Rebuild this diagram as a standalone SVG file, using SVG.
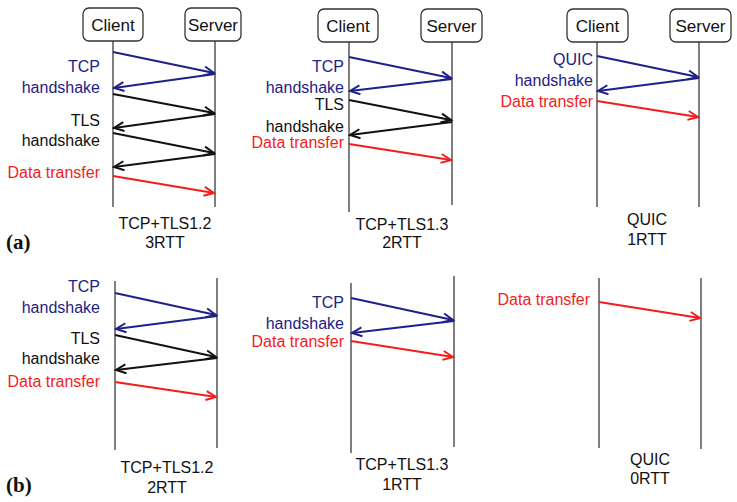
<svg xmlns="http://www.w3.org/2000/svg" width="737" height="502" viewBox="0 0 737 502">
<style>
.bg{fill:#fff}
.box{fill:#fff;stroke:#333;stroke-width:1.3}
.life{stroke:#555;stroke-width:1.5;fill:none}
.t{font-family:"Liberation Sans",Arial,sans-serif;font-size:17px}
.lbl{font-family:"Liberation Sans",Arial,sans-serif;font-size:16px;text-anchor:end}
.ttl{font-family:"Liberation Sans",Arial,sans-serif;font-size:16px;text-anchor:middle;fill:#111}
.pl{font-family:"Liberation Serif","Times New Roman",serif;font-size:21px;font-weight:bold;fill:#111}
.blue{fill:#1e2187}
.black{fill:#111}
.red{fill:#f21d1d}
.ab{stroke:#1e2187;stroke-width:2;fill:none;marker-end:url(#mb)}
.ak{stroke:#111;stroke-width:2;fill:none;marker-end:url(#mk)}
.ar{stroke:#f21d1d;stroke-width:2;fill:none;marker-end:url(#mr)}
</style>
<defs>
<marker id="mb" markerUnits="userSpaceOnUse" markerWidth="14" markerHeight="12" refX="11" refY="6" orient="auto"><path d="M1,1.5 L11,6 L1,10.5" fill="none" stroke="#1e2187" stroke-width="2"/></marker>
<marker id="mk" markerUnits="userSpaceOnUse" markerWidth="14" markerHeight="12" refX="11" refY="6" orient="auto"><path d="M1,1.5 L11,6 L1,10.5" fill="none" stroke="#111" stroke-width="2"/></marker>
<marker id="mr" markerUnits="userSpaceOnUse" markerWidth="14" markerHeight="12" refX="11" refY="6" orient="auto"><path d="M1,1.5 L11,6 L1,10.5" fill="none" stroke="#f21d1d" stroke-width="2"/></marker>
</defs>
<rect class="bg" width="737" height="502"/>

<!-- lifelines -->
<g id="lifelines">
<line class="life" x1="113" y1="41" x2="113" y2="207"/>
<line class="life" x1="215" y1="41" x2="215" y2="207"/>
<line class="life" x1="349" y1="42" x2="349" y2="212"/>
<line class="life" x1="452" y1="42" x2="452" y2="205"/>
<line class="life" x1="597" y1="42" x2="597" y2="207"/>
<line class="life" x1="699" y1="42" x2="699" y2="207"/>
<line class="life" x1="115" y1="281" x2="115" y2="450"/>
<line class="life" x1="217" y1="278" x2="217" y2="448"/>
<line class="life" x1="351" y1="283" x2="351" y2="453"/>
<line class="life" x1="454" y1="276" x2="454" y2="447"/>
<line class="life" x1="599" y1="278" x2="599" y2="448"/>
<line class="life" x1="701" y1="278" x2="701" y2="449"/>
</g>

<!-- nodes -->
<g id="client-a1"><rect class="box" x="83" y="8" width="60" height="33" rx="6"/><text class="t black" x="113" y="30.5" text-anchor="middle">Client</text></g>
<g id="server-a1"><rect class="box" x="185" y="8" width="56" height="33" rx="6"/><text class="t black" x="213" y="30.5" text-anchor="middle">Server</text></g>
<g id="client-a2"><rect class="box" x="318" y="9" width="60" height="33" rx="6"/><text class="t black" x="348" y="31.5" text-anchor="middle">Client</text></g>
<g id="server-a2"><rect class="box" x="421" y="9" width="61" height="33" rx="6"/><text class="t black" x="451.5" y="31.5" text-anchor="middle">Server</text></g>
<g id="client-a3"><rect class="box" x="567" y="9" width="61" height="33" rx="6"/><text class="t black" x="597.5" y="31.5" text-anchor="middle">Client</text></g>
<g id="server-a3"><rect class="box" x="670" y="9" width="61" height="33" rx="6"/><text class="t black" x="700.5" y="31.5" text-anchor="middle">Server</text></g>

<!-- connectors -->
<g id="connectors">
<line class="ab" x1="113" y1="52" x2="214" y2="73"/>
<line class="ab" x1="215" y1="74" x2="114" y2="88"/>
<line class="ak" x1="113" y1="94" x2="214" y2="113"/>
<line class="ak" x1="215" y1="114" x2="114" y2="128"/>
<line class="ak" x1="113" y1="133" x2="214" y2="153"/>
<line class="ak" x1="215" y1="154" x2="114" y2="167"/>
<line class="ar" x1="113" y1="176" x2="214" y2="193"/>

<line class="ab" x1="349" y1="57" x2="451" y2="78"/>
<line class="ab" x1="452" y1="79" x2="350" y2="91"/>
<line class="ak" x1="349" y1="100" x2="451" y2="120"/>
<line class="ak" x1="452" y1="122" x2="350" y2="135"/>
<line class="ar" x1="349" y1="144" x2="451" y2="160"/>

<line class="ab" x1="597" y1="56" x2="698" y2="77"/>
<line class="ab" x1="699" y1="78" x2="598" y2="91"/>
<line class="ar" x1="597" y1="101" x2="698" y2="117"/>

<line class="ab" x1="115" y1="293" x2="216" y2="315"/>
<line class="ab" x1="217" y1="316" x2="116" y2="329"/>
<line class="ak" x1="115" y1="335" x2="216" y2="357"/>
<line class="ak" x1="217" y1="358" x2="116" y2="370"/>
<line class="ar" x1="115" y1="382" x2="216" y2="397"/>

<line class="ab" x1="351" y1="298" x2="453" y2="320"/>
<line class="ab" x1="454" y1="321" x2="352" y2="333"/>
<line class="ar" x1="351" y1="341" x2="453" y2="357"/>

<line class="ar" x1="599" y1="302" x2="700" y2="318"/>
</g>

<!-- labels -->
<g id="labels">
<text class="lbl blue" x="100" y="72">TCP</text>
<text class="lbl blue" x="100" y="93">handshake</text>
<text class="lbl black" x="100" y="126">TLS</text>
<text class="lbl black" x="100" y="146">handshake</text>
<text class="lbl red" x="100" y="178">Data transfer</text>

<text class="lbl blue" x="344" y="72">TCP</text>
<text class="lbl blue" x="344" y="93">handshake</text>
<text class="lbl black" x="344" y="110">TLS</text>
<text class="lbl black" x="344" y="132">handshake</text>
<text class="lbl red" x="344" y="148">Data transfer</text>

<text class="lbl blue" x="593" y="65">QUIC</text>
<text class="lbl blue" x="593" y="86">handshake</text>
<text class="lbl red" x="593" y="107">Data transfer</text>

<text class="lbl blue" x="100" y="292">TCP</text>
<text class="lbl blue" x="100" y="313">handshake</text>
<text class="lbl black" x="100" y="344">TLS</text>
<text class="lbl black" x="100" y="364">handshake</text>
<text class="lbl red" x="100" y="387">Data transfer</text>

<text class="lbl blue" x="344" y="308">TCP</text>
<text class="lbl blue" x="344" y="329">handshake</text>
<text class="lbl red" x="344" y="347">Data transfer</text>

<text class="lbl red" x="590" y="305">Data transfer</text>

<text class="ttl" x="165" y="229">TCP+TLS1.2</text>
<text class="ttl" x="165" y="248">3RTT</text>
<text class="ttl" x="402" y="230">TCP+TLS1.3</text>
<text class="ttl" x="402" y="248">2RTT</text>
<text class="ttl" x="647" y="225">QUIC</text>
<text class="ttl" x="647" y="245">1RTT</text>
<text class="ttl" x="167" y="473">TCP+TLS1.2</text>
<text class="ttl" x="167" y="493">2RTT</text>
<text class="ttl" x="402" y="470">TCP+TLS1.3</text>
<text class="ttl" x="402" y="490">1RTT</text>
<text class="ttl" x="650" y="465">QUIC</text>
<text class="ttl" x="650" y="484">0RTT</text>

<text class="pl" x="6" y="249">(a)</text>
<text class="pl" x="6" y="492">(b)</text>
</g>
</svg>
